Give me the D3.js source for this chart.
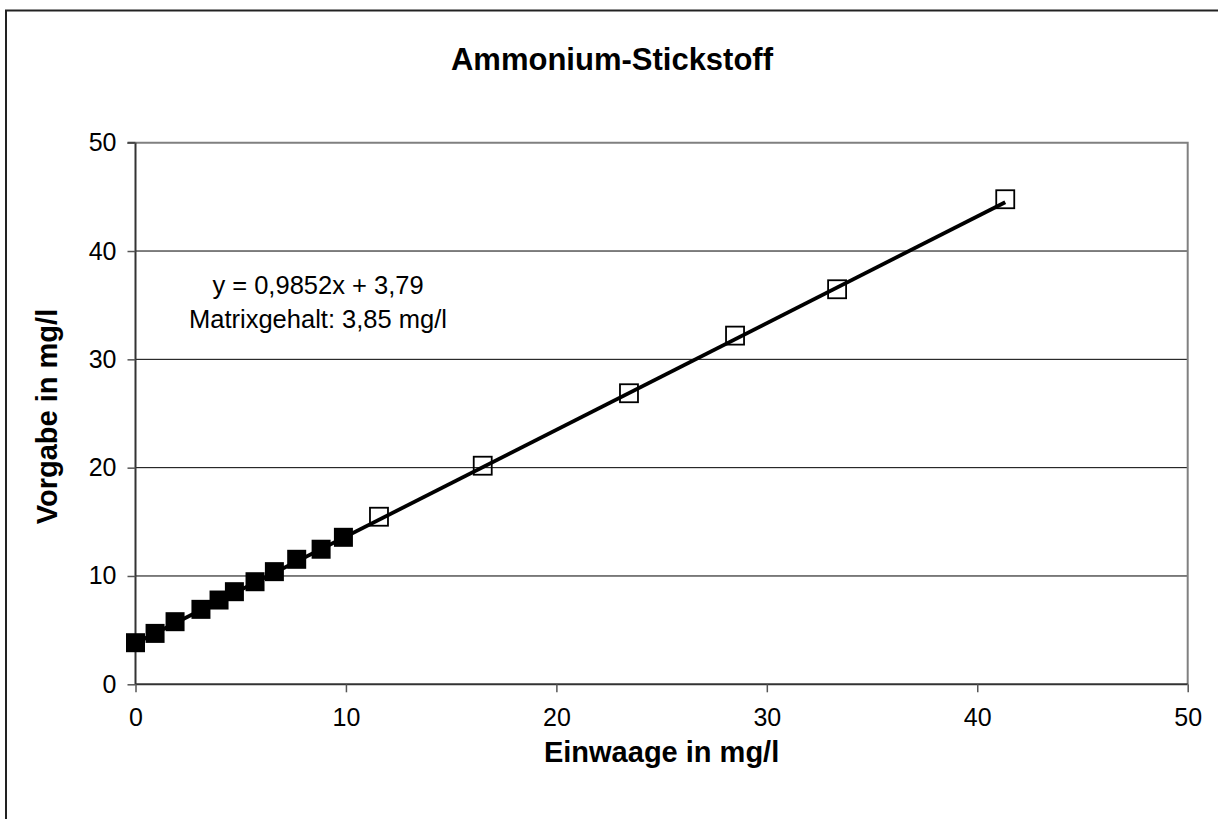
<!DOCTYPE html>
<html><head><meta charset="utf-8">
<script src="https://cdn.jsdelivr.net/npm/d3@7"></script>
<style>body{margin:0;background:#fff}svg{display:block}text{font-family:"Liberation Sans",Arial,sans-serif;fill:#000}</style>
</head><body>
<svg id="c" width="1218" height="819"></svg>
<script>
const title = "Ammonium-Stickstoff";
const xLabel = "Einwaage in mg/l";
const yLabel = "Vorgabe in mg/l";
const annotation = ["y = 0,9852x + 3,79", "Matrixgehalt: 3,85 mg/l"];
const xTicks = [0, 10, 20, 30, 40, 50];
const yTicks = [0, 10, 20, 30, 40, 50];
const filledX = [0, 0.93, 1.88, 3.11, 3.97, 4.70, 5.68, 6.60, 7.66, 8.82, 9.88];
const filledY = [3.84, 4.70, 5.78, 6.92, 7.78, 8.55, 9.47, 10.40, 11.54, 12.47, 13.57];
const openX = [11.57, 16.50, 23.45, 28.49, 33.34, 41.33];
const openY = [15.47, 20.18, 26.87, 32.19, 36.47, 44.78];
const slope = 0.9852, intercept = 3.79;
const fitRange = [0, 41.33];

const svg = d3.select("#c");
const L = 135.5, R = 1187.7, T = 142.7, B = 684.3;
const x = d3.scaleLinear().domain([0, 50]).range([L, R]);
const y = d3.scaleLinear().domain([0, 50]).range([B, T]);

// outer frame (right/bottom edges outside the view)
svg.append("rect").attr("x", 6).attr("y", 10.5).attr("width", 1240).attr("height", 840)
  .attr("fill", "none").attr("stroke", "#222").attr("stroke-width", 2);

// gridlines
svg.append("g").selectAll("line").data(yTicks.filter(d => d > 0 && d < 50)).join("line")
  .attr("x1", L).attr("x2", R).attr("y1", d => y(d)).attr("y2", d => y(d))
  .attr("stroke", "#000").attr("stroke-width", 1);
// plot border top/right
svg.append("path").attr("d", `M${L},${T}H${R}V${B}`).attr("fill", "none")
  .attr("stroke", "#808080").attr("stroke-width", 2);

// axes
const yAxis = d3.axisLeft(y).tickValues(yTicks).tickSize(8).tickPadding(11).tickFormat(d3.format("d"));
const gy = svg.append("g").attr("transform", `translate(${L},0)`).call(yAxis);
const xAxis = d3.axisBottom(x).tickValues(xTicks).tickSize(8).tickPadding(16).tickFormat(d3.format("d"));
const gx = svg.append("g").attr("transform", `translate(0,${B})`).call(xAxis);
[gx, gy].forEach(g => {
  g.select(".domain").attr("stroke", "#333").attr("stroke-width", 2);
  g.selectAll(".tick line").attr("stroke", "#555").attr("stroke-width", 1.5);
  g.selectAll("text").attr("font-size", 25).attr("font-family", "Liberation Sans, Arial, sans-serif").attr("fill", "#000");
});
gy.select(".domain").attr("d", `M0,${B}V${T}M-8,${T}H0`);
gx.select(".domain").attr("d", `M${L},0H${R}`);

// fit line
svg.append("line").attr("x1", x(fitRange[0])).attr("y1", y(slope*fitRange[0]+intercept))
  .attr("x2", x(fitRange[1])).attr("y2", y(slope*fitRange[1]+intercept))
  .attr("stroke", "#000").attr("stroke-width", 3.8);

// markers
const s = 18;
svg.append("g").selectAll("rect").data(filledX.map((d, i) => [d, filledY[i]])).join("rect")
  .attr("x", d => x(d[0]) - s/2 - 0.5).attr("y", d => y(d[1]) - s/2 - 0.5)
  .attr("width", s + 1).attr("height", s + 1).attr("fill", "#000");
svg.append("g").selectAll("rect").data(openX.map((d, i) => [d, openY[i]])).join("rect")
  .attr("x", d => x(d[0]) - s/2).attr("y", d => y(d[1]) - s/2)
  .attr("width", s).attr("height", s).attr("fill", "none").attr("stroke", "#000").attr("stroke-width", 1.8);

// annotation
svg.append("g").selectAll("text").data(annotation).join("text")
  .attr("x", 318).attr("y", (d, i) => 294 + i * 34).attr("text-anchor", "middle")
  .attr("font-size", 25.5).text(d => d);

// titles
svg.append("text").attr("x", 612).attr("y", 70).attr("text-anchor", "middle")
  .attr("font-size", 31).attr("font-weight", "bold").text(title);
svg.append("text").attr("x", (L + R) / 2).attr("y", 762).attr("text-anchor", "middle")
  .attr("font-size", 29).attr("font-weight", "bold").text(xLabel);
svg.append("text").attr("transform", `translate(57,${(T + B) / 2 + 3}) rotate(-90)`).attr("text-anchor", "middle")
  .attr("font-size", 29).attr("font-weight", "bold").text(yLabel);
</script>
</body></html>
